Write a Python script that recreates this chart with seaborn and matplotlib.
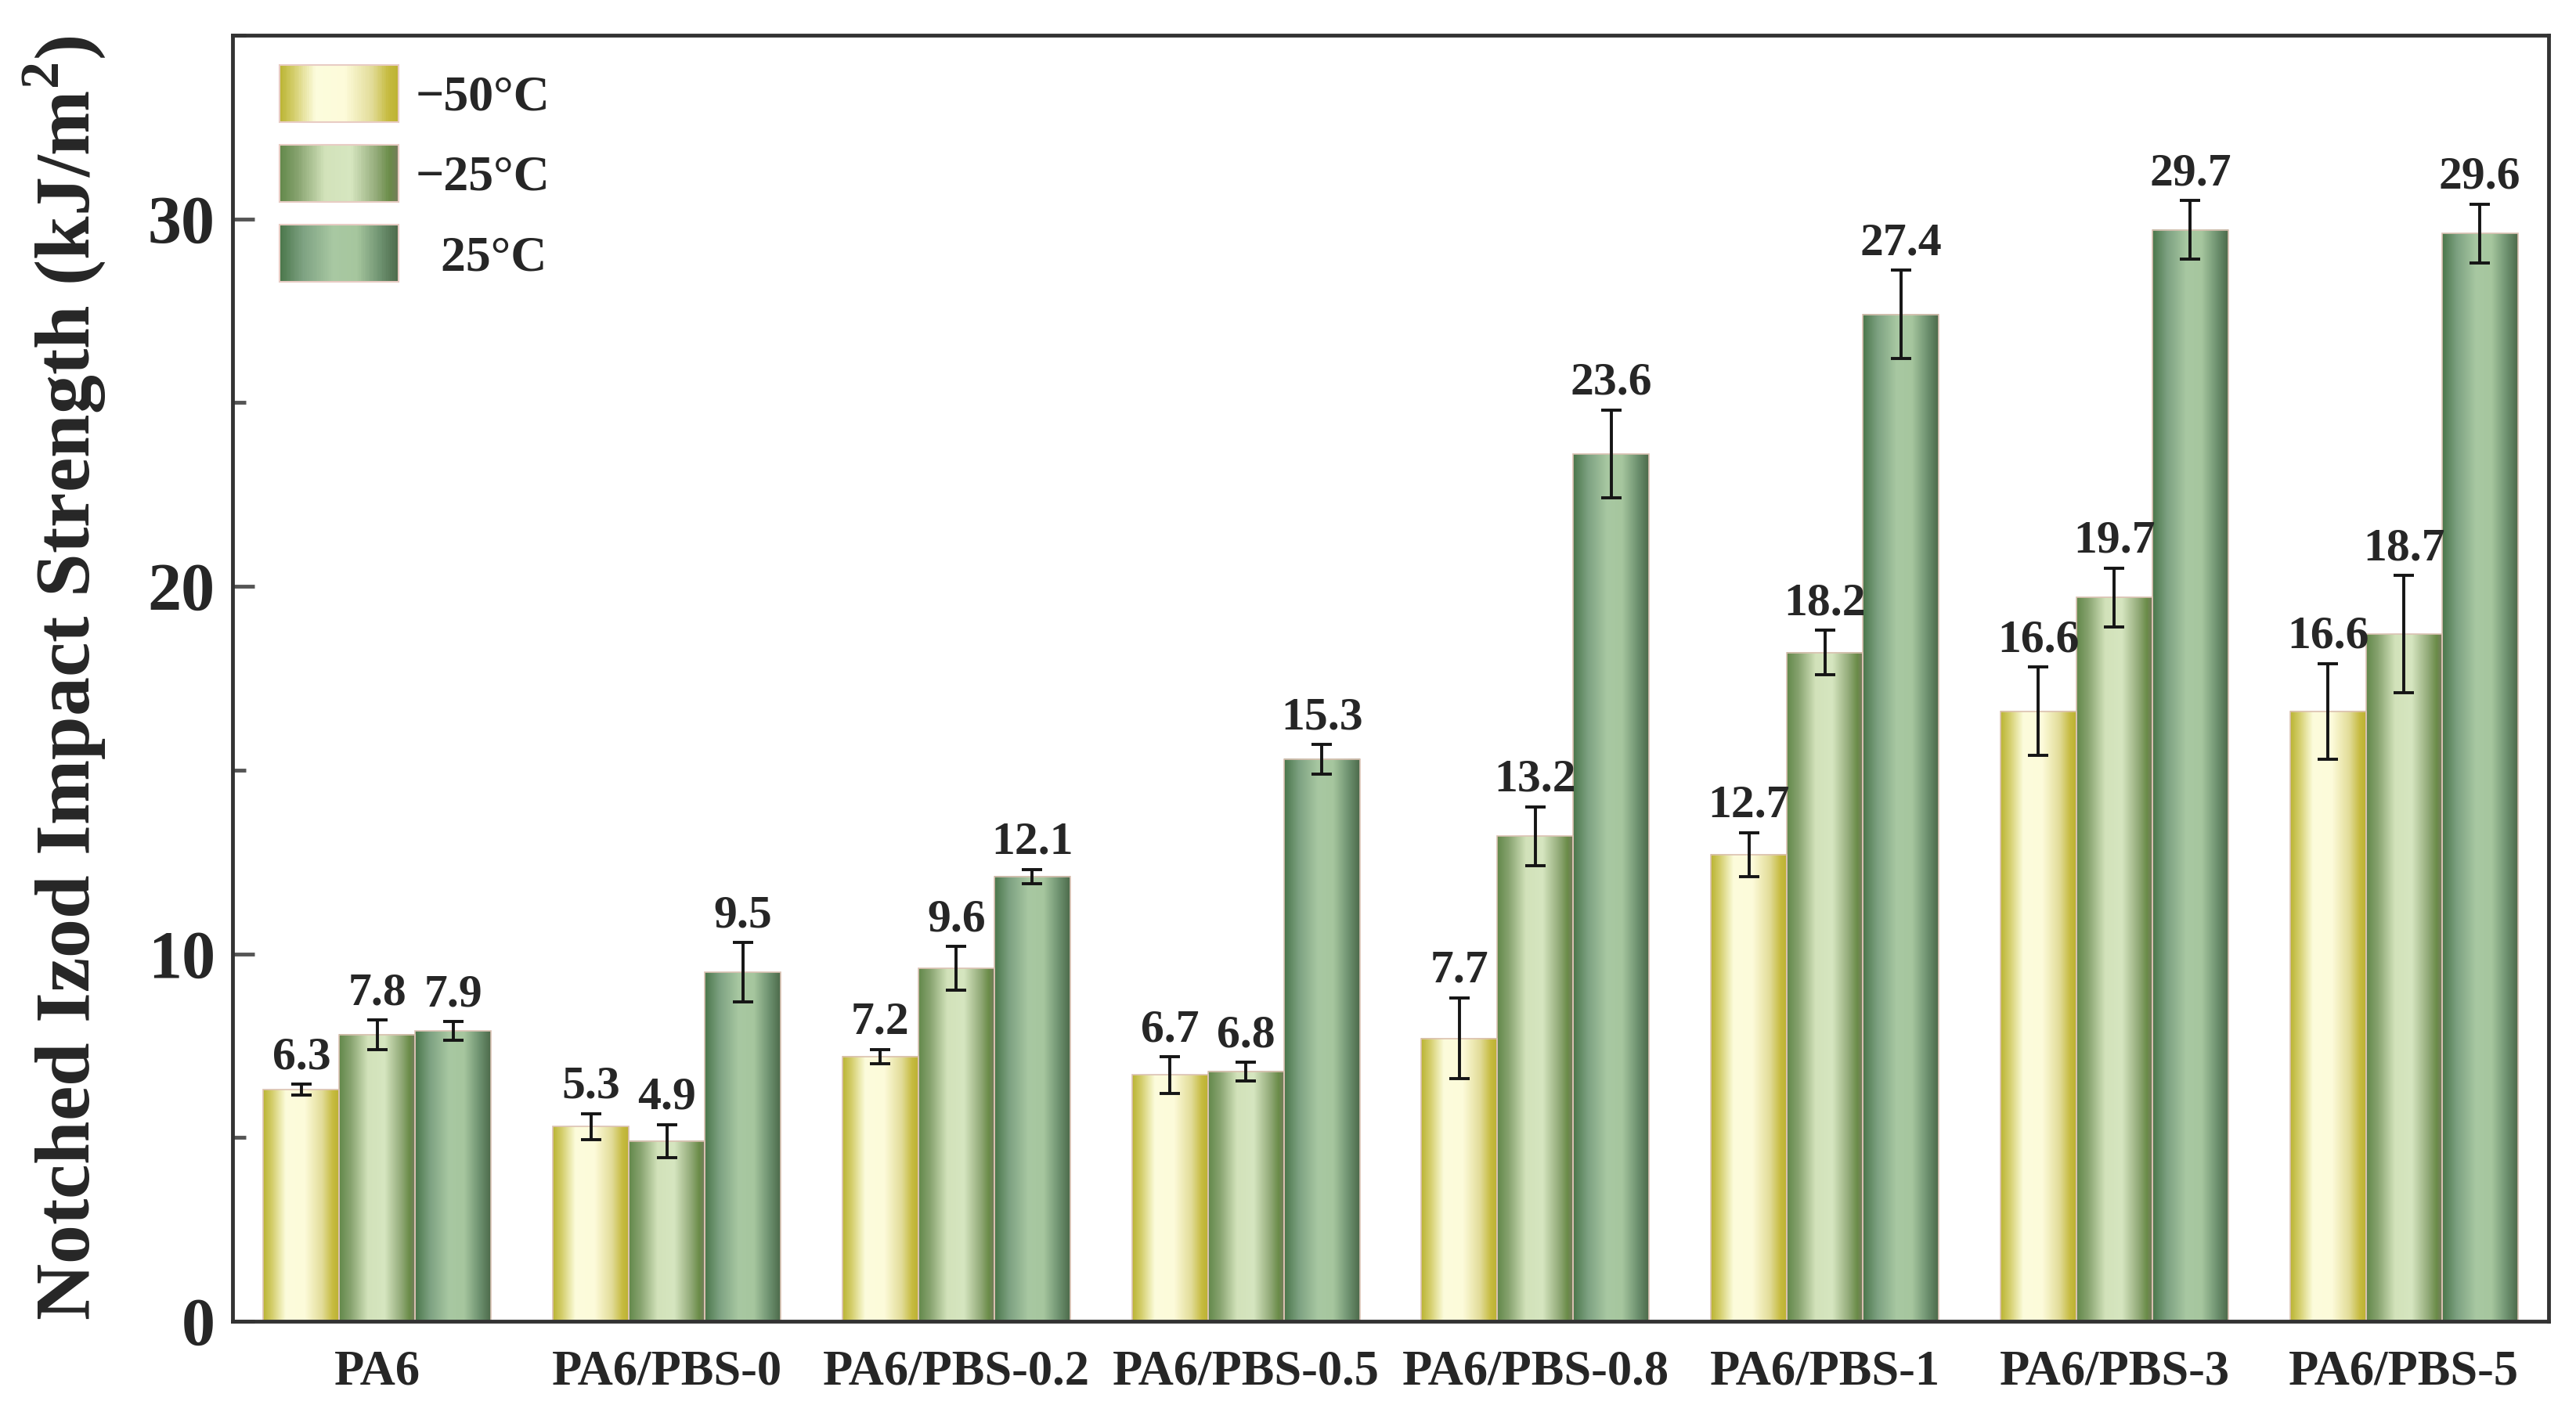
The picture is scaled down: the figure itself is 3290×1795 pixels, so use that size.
import numpy as np
import pandas as pd
import matplotlib
matplotlib.use('Agg')
import matplotlib.pyplot as plt
import seaborn as sns
from matplotlib.colors import LinearSegmentedColormap
from matplotlib.legend_handler import HandlerBase
from matplotlib.patches import Rectangle
from matplotlib.ticker import MultipleLocator

# ---------------- data ----------------
samples = ['PA6', 'PA6/PBS-0', 'PA6/PBS-0.2', 'PA6/PBS-0.5',
           'PA6/PBS-0.8', 'PA6/PBS-1', 'PA6/PBS-3', 'PA6/PBS-5']
temps = ['\u221250\u00b0C', '\u221225\u00b0C', '25\u00b0C']
legend_labels = ['\u221250\u00b0C', '\u221225\u00b0C', '  25\u00b0C']

val_m50 = [6.3, 5.3, 7.2, 6.7, 7.7, 12.7, 16.6, 16.6]
val_m25 = [7.8, 4.9, 9.6, 6.8, 13.2, 18.2, 19.7, 18.7]
val_p25 = [7.9, 9.5, 12.1, 15.3, 23.6, 27.4, 29.7, 29.6]

err_m50 = [0.15, 0.35, 0.2, 0.5, 1.1, 0.6, 1.2, 1.3]
err_m25 = [0.4, 0.45, 0.6, 0.25, 0.8, 0.6, 0.8, 1.6]
err_p25 = [0.25, 0.8, 0.2, 0.4, 1.2, 1.2, 0.8, 0.8]

values = [val_m50, val_m25, val_p25]
errors = [err_m50, err_m25, err_p25]

# ---------------- style ----------------
sns.set_style('ticks')
plt.rcParams['font.family'] = ['Liberation Serif', 'DejaVu Serif']
plt.rcParams['font.weight'] = 'bold'
plt.rcParams['mathtext.fontset'] = 'custom'
plt.rcParams['mathtext.rm'] = 'Liberation Serif:bold'
plt.rcParams['mathtext.bf'] = 'Liberation Serif:bold'

grad_stops = [
    [(0.0, '#bab432'), (0.12, '#d4ce6c'), (0.3, '#fcfcdc'), (0.55, '#fdfbda'),
     (0.78, '#e2dc98'), (0.92, '#c6bb40'), (1.0, '#bcb232')],
    [(0.0, '#62884a'), (0.15, '#86a26e'), (0.38, '#d2e2ba'), (0.6, '#d6e6c0'),
     (0.82, '#92aa78'), (0.93, '#6a8c48'), (1.0, '#747c5c')],
    [(0.0, '#4a764a'), (0.2, '#7ea282'), (0.45, '#a8c8a2'), (0.65, '#a6c69e'),
     (0.85, '#6e9270'), (1.0, '#4c6a4a')],
]
cmaps = [LinearSegmentedColormap.from_list(f'g{i}', s) for i, s in enumerate(grad_stops)]
base_colors = ['#e6e29a', '#a8b890', '#88ac88']

df = pd.DataFrame({
    'sample': samples * len(temps),
    'temp': np.repeat(temps, len(samples)),
    'value': np.concatenate(values),
})

fig, ax = plt.subplots(figsize=(32.9, 17.95), dpi=100)
fig.subplots_adjust(left=0.0903, right=0.9894, bottom=0.0596, top=0.975)

sns.barplot(data=df, x='sample', y='value', hue='temp', order=samples,
            hue_order=temps, palette=base_colors, width=0.787, errorbar=None,
            legend=False, saturation=1, edgecolor='#dcc2b4', linewidth=1.2, ax=ax)

bar_containers = list(ax.containers)[:len(temps)]
xs = np.linspace(0, 1, 256)
for i, cont in enumerate(bar_containers):
    img = cmaps[i](xs)[np.newaxis, :, :3]
    centers = []
    for bar in cont:
        x0, w, h = bar.get_x(), bar.get_width(), bar.get_height()
        ax.imshow(img, extent=(x0, x0 + w, 0, h), aspect='auto', zorder=2,
                  interpolation='bilinear')
        bar.set_facecolor('none')
        bar.set_zorder(3)
        centers.append(x0 + w / 2)
    ax.errorbar(centers, values[i], yerr=errors[i], fmt='none', ecolor='#151515',
                elinewidth=2.8, capsize=9.5, capthick=2.8, zorder=4)
    for c, v, e in zip(centers, values[i], errors[i]):
        ax.annotate(f'{v:.1f}', (c, v + e), xytext=(0, 5), textcoords='offset points',
                    ha='center', va='bottom', fontsize=43, fontweight='bold', zorder=5)

ax.set_xlim(-0.5, 7.5)
ax.set_ylim(0, 35)
ax.set_yticks([0, 10, 20, 30])
ax.yaxis.set_minor_locator(MultipleLocator(5))
ax.tick_params(axis='y', which='major', direction='in', length=20, width=3.5,
               labelsize=62, pad=16, color='#555555')
ax.tick_params(axis='y', which='minor', direction='in', length=12, width=3.5,
               color='#555555')
ax.tick_params(axis='x', length=0, labelsize=45, pad=26)
for lab in ax.get_xticklabels() + ax.get_yticklabels():
    lab.set_fontweight('bold')

for side in ['left', 'right', 'top', 'bottom']:
    ax.spines[side].set_visible(True)
    ax.spines[side].set_linewidth(3.5)
    ax.spines[side].set_color('#333333')
    ax.spines[side].set_zorder(6)

ax.set_xlabel('')
ax.set_ylabel('Notched Izod Impact Strength (kJ/m$^{2}$)', fontsize=72, fontweight='bold')
ax.yaxis.set_label_coords(-0.054, 0.5)


class GradHandler(HandlerBase):
    def __init__(self, cmap, n=60):
        super().__init__()
        self.cmap = cmap
        self.n = n

    def create_artists(self, legend, orig_handle, xdescent, ydescent, width,
                       height, fontsize, trans):
        arts = []
        for k in range(self.n):
            r = Rectangle((-xdescent + width * k / self.n, -ydescent),
                          width / self.n * 1.05, height,
                          facecolor=self.cmap((k + 0.5) / self.n),
                          edgecolor='none', transform=trans)
            arts.append(r)
        arts.append(Rectangle((-xdescent, -ydescent), width, height,
                              facecolor='none', edgecolor='#e8ccc4', lw=1.5,
                              transform=trans))
        return arts


handles = [Rectangle((0, 0), 1, 1) for _ in temps]
hmap = {h: GradHandler(cm) for h, cm in zip(handles, cmaps)}
ax.legend(handles, legend_labels, handler_map=hmap, loc='upper left',
          bbox_to_anchor=(0.0203, 0.977), frameon=False, fontsize=46,
          handlelength=2.37, handleheight=1.38, labelspacing=0.46,
          handletextpad=0.35, borderaxespad=0, borderpad=0)

fig.savefig('out.png', dpi=100)
